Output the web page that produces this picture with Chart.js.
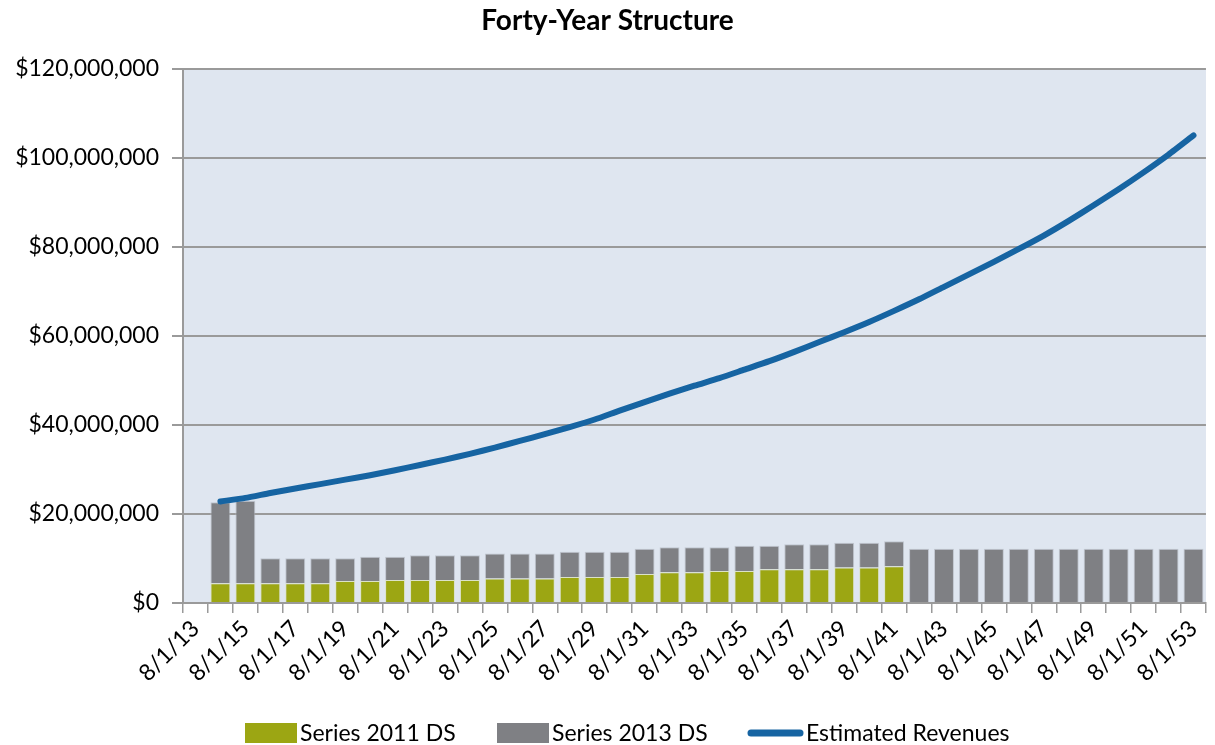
<!DOCTYPE html>
<html>
<head>
<meta charset="utf-8">
<script src="https://cdn.jsdelivr.net/npm/chart.js@4.4.0/dist/chart.umd.min.js"></script>
<style>
  html, body { margin: 0; padding: 0; background: #ffffff; }
  #wrap { position: relative; width: 1215px; height: 745px; }
</style>
</head>
<body>
<div id="wrap"><canvas id="c"></canvas></div>
<script>
// ---------- data ----------
const categories = [
  '8/1/13','8/1/14','8/1/15','8/1/16','8/1/17','8/1/18','8/1/19','8/1/20','8/1/21','8/1/22',
  '8/1/23','8/1/24','8/1/25','8/1/26','8/1/27','8/1/28','8/1/29','8/1/30','8/1/31','8/1/32',
  '8/1/33','8/1/34','8/1/35','8/1/36','8/1/37','8/1/38','8/1/39','8/1/40','8/1/41','8/1/42',
  '8/1/43','8/1/44','8/1/45','8/1/46','8/1/47','8/1/48','8/1/49','8/1/50','8/1/51','8/1/52',
  '8/1/53'
];

const series2011DS = [
  null,
  4430000, 4430000, 4430000, 4430000, 4430000, 4950000, 4950000, 5180000, 5180000, 5180000,
  5180000, 5480000, 5480000, 5480000, 5860000, 5860000, 5860000, 6530000, 6910000, 6910000,
  7210000, 7210000, 7580000, 7580000, 7580000, 7960000, 7960000, 8260000,
  null, null, null, null, null, null, null, null, null, null, null, null
];

const series2013DS = [
  null,
  18170000, 18520000, 5630000, 5630000, 5630000, 5110000, 5410000, 5180000, 5550000, 5550000,
  5550000, 5630000, 5630000, 5630000, 5630000, 5630000, 5630000, 5630000, 5630000, 5630000,
  5330000, 5630000, 5260000, 5630000, 5630000, 5550000, 5550000, 5630000,
  12160000, 12160000, 12160000, 12160000, 12160000, 12160000, 12160000, 12160000, 12160000, 12160000,
  12160000, 12160000
];

const estimatedRevenues = [
  null,
  22800000, 23600000, 24700000, 25700000, 26700000, 27700000, 28700000, 29800000, 31000000, 32200000,
  33500000, 34900000, 36400000, 37900000, 39500000, 41200000, 43200000, 45100000, 47000000, 48800000,
  50500000, 52400000, 54300000, 56400000, 58600000, 60800000, 63100000, 65600000, 68200000, 71000000,
  73800000, 76600000, 79500000, 82500000, 85800000, 89300000, 92900000, 96700000, 100700000, 105000000
];

const yTickMax = 120000000;
const yTickStep = 20000000;

// ---------- styles ----------
const FONT = 'Lato, "Open Sans", "DejaVu Sans", sans-serif';
const GREEN = '#9CA613';
const GRAY = '#7F8084';
const BLUE = '#1664A2';
const PLOT_BG = '#DFE6F0';
const GRID = '#9A9A9A';

const plotBg = {
  id: 'plotBg',
  beforeDraw(chart) {
    const {ctx, chartArea: a} = chart;
    ctx.save();
    ctx.fillStyle = PLOT_BG;
    ctx.fillRect(a.left, a.top, a.right - a.left, a.bottom - a.top);
    ctx.restore();
  }
};

const bottomLegend = {
  id: 'bottomLegend',
  afterDraw(chart) {
    const ctx = chart.ctx;
    const ds = chart.data.datasets;
    const starts = [245, 497, 748];
    const boxW = 52, boxH = 20, gapBoxText = 3;
    const cy = 733;
    ctx.save();
    ctx.font = '23px ' + FONT;
    ctx.textBaseline = 'middle';
    ctx.textAlign = 'left';
    ds.forEach((d, k) => {
      const x = starts[k];
      let textX = x + boxW + gapBoxText;
      if (d.type === 'line') {
        ctx.strokeStyle = d.borderColor;
        ctx.lineWidth = 7;
        ctx.lineCap = 'round';
        ctx.beginPath();
        ctx.moveTo(x + 3, cy);
        ctx.lineTo(x + 52, cy);
        ctx.stroke();
        textX = x + 58;
      } else {
        ctx.fillStyle = d.backgroundColor;
        ctx.fillRect(x, cy - boxH / 2, boxW, boxH);
      }
      ctx.fillStyle = '#000';
      ctx.fillText(d.label, textX, cy + 1);
    });
    ctx.restore();
  }
};

new Chart(document.getElementById('c'), {
  data: {
    labels: categories,
    datasets: [
      {
        type: 'bar', label: 'Series 2011 DS', data: series2011DS, stack: 'ds',
        backgroundColor: GREEN, borderColor: 'rgba(215,222,170,0.55)', borderWidth: 1,
        barPercentage: 0.8, categoryPercentage: 1.0, order: 2
      },
      {
        type: 'bar', label: 'Series 2013 DS', data: series2013DS, stack: 'ds',
        backgroundColor: GRAY, borderColor: 'rgba(185,190,200,0.8)', borderWidth: 1,
        barPercentage: 0.8, categoryPercentage: 1.0, order: 2
      },
      {
        type: 'line', label: 'Estimated Revenues', data: estimatedRevenues, stack: 'rev',
        borderColor: BLUE, backgroundColor: BLUE, borderWidth: 6, borderCapStyle: 'round',
        borderJoinStyle: 'round', pointRadius: 0, tension: 0.2, fill: false, order: 0
      }
    ]
  },
  plugins: [plotBg, bottomLegend],
  options: {
    responsive: true,
    maintainAspectRatio: false,
    animation: false,
    layout: { padding: { left: 0, right: 0, top: 0, bottom: 44 } },
    plugins: {
      legend: { display: false },
      tooltip: { enabled: false },
      title: {
        display: true,
        text: 'Forty-Year Structure',
        color: '#000',
        font: { family: FONT, size: 28, weight: 'bold' },
        padding: { top: 4, bottom: 31 }
      }
    },
    scales: {
      x: {
        stacked: true,
        offset: true,
        grid: {
          display: true, offset: true, drawOnChartArea: false, drawTicks: true,
          tickLength: 10, color: GRID, lineWidth: 1.5
        },
        border: { display: true, color: GRID, width: 2 },
        ticks: {
          autoSkip: false, maxRotation: 45, minRotation: 45, padding: 2,
          color: '#000', font: { family: FONT, size: 23 },
          callback: function (value, index) {
            return index % 2 === 0 ? categories[index] : '';
          }
        },
        afterFit(scale) { scale.height = 98; }
      },
      y: {
        stacked: true,
        min: 0,
        max: yTickMax,
        grid: { color: GRID, lineWidth: 2, tickLength: 11, drawTicks: true },
        border: { display: true, color: GRID, width: 2 },
        ticks: {
          stepSize: yTickStep, padding: 13, color: '#000',
          font: { family: FONT, size: 23 },
          callback: v => '$' + Number(v).toLocaleString('en-US')
        },
        afterFit(scale) { scale.width = 183; }
      }
    }
  }
});
</script>
</body>
</html>
